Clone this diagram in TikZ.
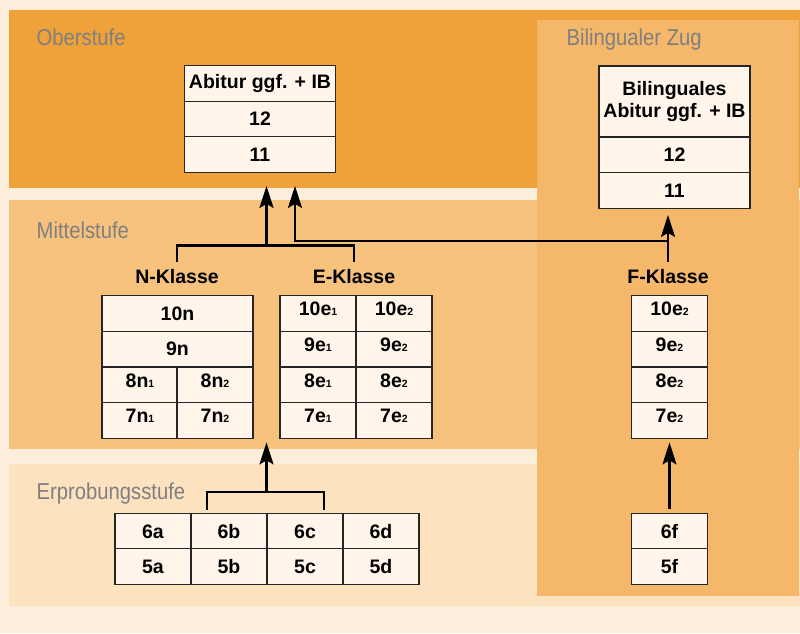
\documentclass[tikz,border=0pt]{standalone}
\usepackage{fontspec}
\setmainfont{Liberation Sans}
\newfontfamily\schmal[FakeStretch=0.88]{Liberation Sans}
\usetikzlibrary{arrows.meta}

\definecolor{grund}{HTML}{FDEDDB}
\definecolor{ober}{HTML}{F0A23A}
\definecolor{mittel}{HTML}{F6C27E}
\definecolor{erprob}{HTML}{FDE2C0}
\definecolor{bili}{HTML}{F5B86B}
\definecolor{zellfarbe}{HTML}{FFF5EB}
\definecolor{stufengrau}{HTML}{7F7F7F}

\newcommand\klein[1]{{\fontsize{10.5}{10.5}\selectfont #1}}

\tikzset{spitze/.tip={Stealth[length=22pt,width=14pt,inset=4pt]}}
\tikzstyle{zelle}=[draw=black!85,fill=zellfarbe,line width=1.3pt,minimum height=35.5pt,inner sep=0pt,font=\fontsize{19.5}{22.5}\selectfont\bfseries]
\tikzstyle{breit}=[zelle,minimum width=151pt]
\tikzstyle{halb}=[zelle,minimum width=76pt]
\tikzstyle{hoch}=[text height=14pt,text depth=10pt]
\tikzstyle{stufe}=[anchor=base west,text=stufengrau,inner sep=0pt,font=\schmal\fontsize{23}{26}\selectfont]
\tikzstyle{klasse}=[inner sep=7.5pt,font=\fontsize{19.5}{22}\selectfont\bfseries]
\tikzstyle{linie}=[line width=2.4pt]
\tikzstyle{pfeil}=[linie,-spitze]

\begin{document}
\begin{tikzpicture}[x=1pt,y=-1pt]
       \useasboundingbox (0,0) rectangle (800,633);
       \fill[grund] (0,0) rectangle (800,633);
       \fill[ober] (9,10) rectangle (800,187.5);
       \fill[mittel] (9,200) rectangle (800,449);
       \fill[erprob] (9,464) rectangle (800,606);
       \fill[bili] (537,20) rectangle (799,596);

       \node[stufe] (los) at (36.5,45) {Oberstufe};
       \node[stufe] (lmi) at (36.5,238) {Mittelstufe};
       \node[stufe] (ler) at (36.5,499) {Erprobungsstufe};
       \node[stufe] (lbi) at (566.5,45) {Bilingualer Zug};

       % Oberstufe
       \foreach \y/\name/\txt in {83.5/oab/{Abitur ggf. + IB}, 119/o12/12, 154.5/o11/11} {
           \node[breit] (\name) at (260,\y) {\txt};
       }
       % Bilingualer Zug
       \node[breit,minimum height=71pt,align=center] (bab) at (674.5,101.5) {Bilinguales\\Abitur ggf. + IB};
       \node[breit] (b12) at (674.5,155) {12};
       \node[breit] (b11) at (674.5,190.5) {11};

       % Mittelstufe
       \node[klasse] (nk) at (177,276.5) {N-Klasse};
       \node[klasse] (ek) at (354,276.5) {E-Klasse};
       \node[klasse] (fk) at (668,276.5) {F-Klasse};
       \node[breit] (n10) at (177.5,313.5) {10n};
       \node[breit] (n9) at (177.5,349) {9n};
       \foreach \y/\r in {385/8, 420.5/7} {
           \node[halb,hoch] (n\r-1) at (140,\y) {\r n\klein{1}};
           \node[halb,hoch] (n\r-2) at (215,\y) {\r n\klein{2}};
       }
       \foreach \y/\r in {313.5/10, 349/9, 385/8, 420.5/7} {
           \node[halb,hoch] (e\r-1) at (318,\y) {\r e\klein{1}};
           \node[halb,hoch] (e\r-2) at (394,\y) {\r e\klein{2}};
           \node[halb,hoch] (f\r) at (669.5,\y) {\r e\klein{2}};
       }

       % Erprobungsstufe
       \foreach \x/\k in {153/a, 229/b, 305/c, 381/d, 669.5/f} {
           \node[halb] (k6\k) at (\x,531.5) {6\k};
           \node[halb] (k5\k) at (\x,566.5) {5\k};
       }

       % Verbindungen
       \coordinate (ne) at (266.5,245.5);
       \coordinate (fe) at (668,241);
       \coordinate (ob) at (295,241);
       \coordinate (eb) at (266.5,492);
       \coordinate (bl) at (207,510);
       \coordinate (br) at (324,510);
       \draw[linie] (nk.north) |- (ne) -| (ek.north);
       \draw[pfeil,shorten >=13pt] (ne) -- (ne |- o11.south);
       \draw[pfeil,shorten >=13pt] (fe) -- (ob) -- (ob |- o11.south);
       \draw[pfeil,shorten >=6pt] (fk.north) -- (fk.north |- b11.south);
       \draw[linie] (bl) |- (eb) -| (br);
       \draw[pfeil,shorten >=3.5pt] (eb) -- (eb |- n7-2.south);
       \draw[pfeil,shorten <=4pt,shorten >=3.5pt] (k6f.north) -- (f7.south);
\end{tikzpicture}
\end{document}
